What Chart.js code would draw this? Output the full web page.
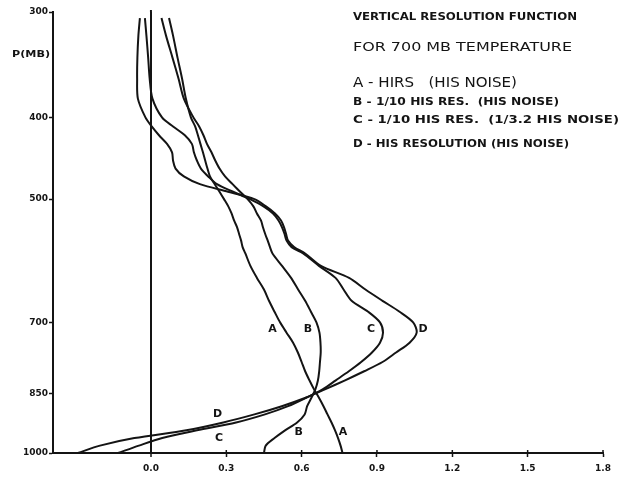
<!DOCTYPE html>
<html>
<head>
<meta charset="utf-8">
<script src="https://cdn.jsdelivr.net/npm/chart.js@4.4.1/dist/chart.umd.min.js"></script>
<style>
  html, body { margin: 0; padding: 0; background: #fff; }
  #wrap { width: 644px; height: 477px; }
</style>
</head>
<body>
<div id="wrap"><canvas id="chart" width="644" height="477"></canvas></div>
<script>
// pressure levels (mb) where each resolution function is sampled
const levels = [305, 320, 340, 360, 380, 400, 410, 420, 430, 440, 450, 460, 470, 480, 490,
  500, 510, 520, 530, 540, 550, 560, 570, 580, 600, 620, 640, 660, 680, 700,
  720, 740, 760, 780, 800, 820, 840, 860, 880, 900, 920, 940, 960, 980, 1000];

// A - HIRS (HIS noise)
const curveA = [0.072, 0.088, 0.106, 0.124, 0.139, 0.159, 0.176, 0.187, 0.197, 0.207, 0.216, 0.225, 0.235, 0.254, 0.273,
  0.291, 0.308, 0.321, 0.331, 0.343, 0.351, 0.359, 0.365, 0.376, 0.396, 0.422, 0.450, 0.470, 0.492, 0.514,
  0.540, 0.566, 0.585, 0.600, 0.614, 0.631, 0.649, 0.669, 0.687, 0.703, 0.719, 0.733, 0.745, 0.755, 0.763];
// B - 1/10 HIS res. (HIS noise)
const curveB = [0.042, 0.060, 0.086, 0.110, 0.131, 0.169, 0.192, 0.209, 0.223, 0.241, 0.256, 0.273, 0.295, 0.325, 0.355,
  0.385, 0.408, 0.422, 0.438, 0.446, 0.455, 0.465, 0.474, 0.484, 0.522, 0.558, 0.586, 0.614, 0.637, 0.659,
  0.671, 0.675, 0.676, 0.673, 0.670, 0.665, 0.655, 0.639, 0.622, 0.612, 0.582, 0.534, 0.492, 0.457, 0.450];
// C - 1/10 HIS res. (1/3.2 HIS noise)
const curveC = [-0.024, -0.018, -0.011, -0.005, 0.006, 0.044, 0.088, 0.135, 0.163, 0.171, 0.183, 0.199, 0.228, 0.263, 0.327,
  0.394, 0.448, 0.486, 0.508, 0.522, 0.532, 0.540, 0.560, 0.606, 0.669, 0.735, 0.767, 0.799, 0.865, 0.912,
  0.924, 0.912, 0.880, 0.837, 0.788, 0.736, 0.685, 0.618, 0.546, 0.454, 0.339, 0.183, 0.045, -0.048, -0.131];
// D - HIS resolution (HIS noise)
const curveD = [-0.044, -0.050, -0.054, -0.055, -0.052, -0.022, 0.003, 0.032, 0.064, 0.084, 0.088, 0.098, 0.131, 0.195, 0.307,
  0.412, 0.458, 0.494, 0.518, 0.530, 0.538, 0.546, 0.570, 0.614, 0.677, 0.789, 0.854, 0.922, 0.990, 1.044,
  1.058, 1.030, 0.976, 0.922, 0.849, 0.773, 0.695, 0.616, 0.521, 0.412, 0.288, 0.141, -0.066, -0.203, -0.291];

const pressureTicks = [300, 400, 500, 700, 850, 1000];
const valueTicks = [0, 0.3, 0.6, 0.9, 1.2, 1.5, 1.8];

// letters written beside the curves, placed in data units
const tagLetters = ['A', 'B', 'C', 'D', 'D', 'C', 'B', 'A'];
const tagValues = [0.484, 0.625, 0.876, 1.084, 0.265, 0.271, 0.588, 0.765];
const tagPressures = [713, 713, 713, 713, 899, 960, 944, 944];

const headingLines = [
  'VERTICAL RESOLUTION FUNCTION',
  'FOR 700 MB TEMPERATURE',
  'A - HIRS   (HIS NOISE)',
  'B - 1/10 HIS RES.  (HIS NOISE)',
  'C - 1/10 HIS RES.  (1/3.2 HIS NOISE)',
  'D - HIS RESOLUTION (HIS NOISE)'
];
const axisTitle = 'P(MB)';

const ink = '#141414';
const sans = '"DejaVu Sans", sans-serif';

// heading block: baseline y, stretched width, font
const headingStyle = [
  [19.5, 224, 'bold 10px ' + sans],
  [50.5, 219, '13px ' + sans],
  [86.5, 164, '14px ' + sans],
  [104.5, 206, 'bold 10px ' + sans],
  [123, 266, 'bold 10px ' + sans],
  [146.5, 216, 'bold 10px ' + sans]
];

function fitText(ctx, text, left, base, width, font) {
  ctx.font = font;
  const w = ctx.measureText(text).width;
  ctx.save();
  ctx.translate(left, base);
  ctx.scale(width / w, 1);
  ctx.textAlign = 'left';
  ctx.textBaseline = 'alphabetic';
  ctx.fillText(text, 0, 0);
  ctx.restore();
}

const decorations = {
  id: 'decorations',
  afterDraw(chart) {
    const ctx = chart.ctx;
    const xs = chart.scales.x, ys = chart.scales.y;
    const area = chart.chartArea;
    ctx.save();
    ctx.fillStyle = ink;
    ctx.strokeStyle = ink;

    // short marks above the value axis, so the ticks read as crosses
    ctx.lineWidth = 1.5;
    valueTicks.forEach(v => {
      const px = xs.getPixelForValue(v);
      ctx.beginPath();
      ctx.moveTo(px, area.bottom - 3);
      ctx.lineTo(px, area.bottom);
      ctx.stroke();
    });

    // zero line runs a little past the top of the frame
    ctx.lineWidth = 2;
    const zx = xs.getPixelForValue(0);
    ctx.beginPath();
    ctx.moveTo(zx, area.top - 2);
    ctx.lineTo(zx, area.top);
    ctx.stroke();

    // curve letters
    ctx.font = 'bold 11px ' + sans;
    ctx.textAlign = 'center';
    ctx.textBaseline = 'middle';
    tagLetters.forEach((t, i) => {
      ctx.fillText(t, xs.getPixelForValue(tagValues[i]), ys.getPixelForValue(tagPressures[i]));
    });

    // pressure axis title
    fitText(ctx, axisTitle, 12, 57, 38, 'bold 9px ' + sans);

    headingLines.forEach((line, i) => {
      const [base, width, font] = headingStyle[i];
      fitText(ctx, line, 353, base, width, font);
    });
    ctx.restore();
  }
};

function series(label, values) {
  return {
    label: label,
    data: levels.map((p, i) => ({ x: values[i], y: p })),
    showLine: true,
    borderColor: ink,
    borderWidth: 2,
    pointRadius: 0,
    tension: 0.3,
    fill: false
  };
}

new Chart(document.getElementById('chart').getContext('2d'), {
  type: 'scatter',
  data: {
    datasets: [
      series('A', curveA),
      series('B', curveB),
      series('C', curveC),
      series('D', curveD)
    ]
  },
  options: {
    responsive: false,
    animation: false,
    devicePixelRatio: 1,
    layout: { padding: { top: 12, right: 41, bottom: 0, left: 0 } },
    plugins: { legend: { display: false }, tooltip: { enabled: false } },
    scales: {
      x: {
        type: 'linear',
        min: -0.39,
        max: 1.8,
        afterBuildTicks: s => { s.ticks = valueTicks.map(v => ({ value: v })); },
        afterFit: s => { s.height = 24; },
        border: { display: true, color: ink, width: 2 },
        grid: {
          drawOnChartArea: true,
          color: c => (c.tick && c.tick.value === 0 ? ink : 'rgba(0,0,0,0)'),
          lineWidth: c => (c.tick && c.tick.value === 0 ? 2 : 1),
          tickColor: ink,
          tickWidth: 1.5,
          tickLength: 4
        },
        ticks: {
          autoSkip: false,
          maxRotation: 0,
          padding: 6,
          color: ink,
          font: { family: 'DejaVu Sans', weight: 'bold', size: 9 },
          callback: v => Number(v).toFixed(1)
        }
      },
      y: {
        type: 'logarithmic',
        reverse: true,
        min: 300,
        max: 1000,
        afterBuildTicks: s => { s.ticks = pressureTicks.map(v => ({ value: v })); },
        afterFit: s => { s.width = 53; },
        border: { display: true, color: ink, width: 2 },
        grid: {
          drawOnChartArea: false,
          tickColor: ink,
          tickWidth: 1.5,
          tickLength: 4
        },
        ticks: {
          autoSkip: false,
          padding: 1,
          color: ink,
          font: { family: 'DejaVu Sans', weight: 'bold', size: 9 },
          callback: v => String(v)
        }
      }
    }
  },
  plugins: [decorations]
});
</script>
</body>
</html>
